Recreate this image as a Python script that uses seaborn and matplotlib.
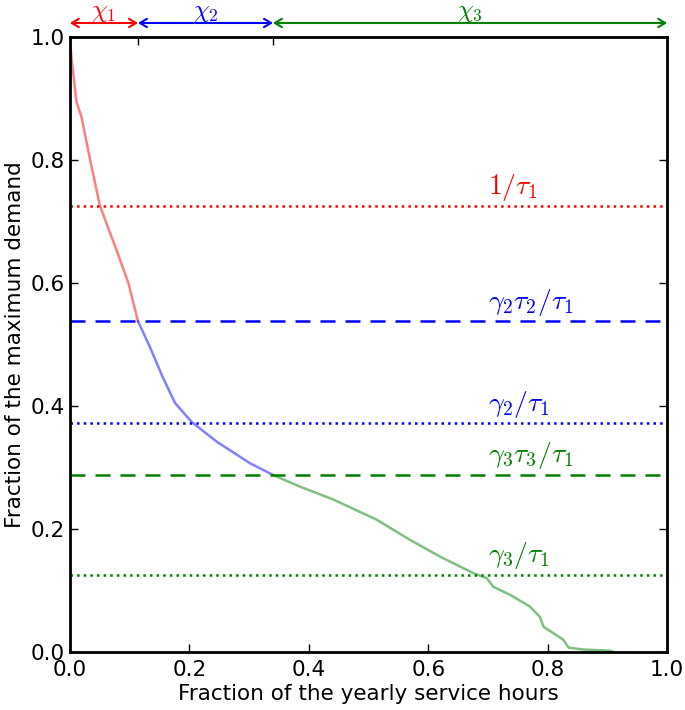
import numpy as np
import pandas as pd
import seaborn as sns
import matplotlib
matplotlib.use("Agg")
import matplotlib.pyplot as plt

# load duration curve
hours = [0.0, 0.003, 0.007, 0.011, 0.0195, 0.034, 0.05, 0.064, 0.078,
         0.098, 0.114, 0.134, 0.155, 0.176, 0.204, 0.246, 0.3015, 0.34, 0.385, 0.441,
         0.514, 0.570, 0.620, 0.676, 0.698, 0.709, 0.737, 0.770, 0.787, 0.793, 0.826,
         0.835, 0.860, 0.905, 0.91]
demand = [1.0, 0.963, 0.930, 0.895, 0.870, 0.800, 0.727, 0.690, 0.654,
          0.600, 0.538, 0.496, 0.448, 0.405, 0.374, 0.342, 0.307, 0.288, 0.269, 0.248,
          0.215, 0.182, 0.155, 0.128, 0.120, 0.106, 0.093, 0.074, 0.057, 0.041, 0.020,
          0.007, 0.004, 0.002, 0.0]

# region boundaries and threshold levels
bounds = [0.0, 0.114, 0.34, 1.0]
region_labels = [r"$\chi_1$", r"$\chi_2$", r"$\chi_3$"]
region_colors = ["r", "b", "g"]

levels = [0.725, 0.538, 0.372, 0.288, 0.125]
level_labels = [r"$1/\tau_1$", r"$\gamma_2\tau_2/\tau_1$", r"$\gamma_2/\tau_1$",
                r"$\gamma_3\tau_3/\tau_1$", r"$\gamma_3/\tau_1$"]
level_colors = ["r", "b", "b", "g", "g"]
level_styles = [":", "--", ":", "--", ":"]

sns.set_style("ticks")
plt.rcParams["font.family"] = ["DejaVu Sans"]
plt.rcParams["mathtext.fontset"] = "cm"
plt.rcParams["xtick.direction"] = "in"
plt.rcParams["ytick.direction"] = "in"
plt.rcParams["text.color"] = "black"
plt.rcParams["axes.labelcolor"] = "black"
plt.rcParams["xtick.color"] = "black"
plt.rcParams["ytick.color"] = "black"
plt.rcParams["axes.edgecolor"] = "black"

df = pd.DataFrame({"x": hours, "y": demand})

fig = plt.figure(figsize=(6.85, 7.1), dpi=100)
ax = fig.add_axes([0.102, 0.0817, 0.872, 0.866])

for i in range(3):
    seg = df[(df.x >= bounds[i]) & (df.x <= bounds[i + 1])]
    sns.lineplot(data=seg, x="x", y="y", color=region_colors[i], alpha=0.5,
                 lw=1.8, ax=ax, sort=False)

for lv, lab, c, ls in zip(levels, level_labels, level_colors, level_styles):
    if ls == "--":
        ax.axhline(lv, color=c, lw=1.8, dashes=(6, 4))
    else:
        ax.axhline(lv, color=c, ls=ls, lw=1.8)
    ax.text(0.70, lv + 0.006, lab, color=c, fontsize=20, va="bottom", ha="left")

ax.set_xlim(0, 1)
ax.set_ylim(0, 1)
ax.set_xticks(np.arange(0, 1.01, 0.2))
ax.set_yticks(np.arange(0, 1.01, 0.2))
ax.tick_params(labelsize=15.5, top=False, right=True, length=6, width=1)
ax.tick_params(axis="x", pad=6)
for s in ax.spines.values():
    s.set_linewidth(2)
ax.set_xlabel("Fraction of the yearly service hours", fontsize=15.5, labelpad=3)
ax.set_ylabel("Fraction of the maximum demand", fontsize=15.5)

ax2 = ax.twiny()
ax2.set_xlim(0, 1)
ax2.set_xticks(bounds[1:3])
ax2.set_xticklabels([])
ax2.tick_params(direction="in", length=6, width=1)

for i in range(3):
    ax.annotate("", xy=(bounds[i], 1.023), xytext=(bounds[i + 1], 1.023),
                xycoords="data", annotation_clip=False,
                arrowprops=dict(arrowstyle="<->,head_length=0.5,head_width=0.3",
                                color=region_colors[i], lw=1.5,
                                shrinkA=0, shrinkB=0))
    ax.text((bounds[i] + bounds[i + 1]) / 2, 1.033, region_labels[i],
            color=region_colors[i], fontsize=18, ha="center", va="baseline",
            clip_on=False)

fig.savefig("out.png", dpi=100)
